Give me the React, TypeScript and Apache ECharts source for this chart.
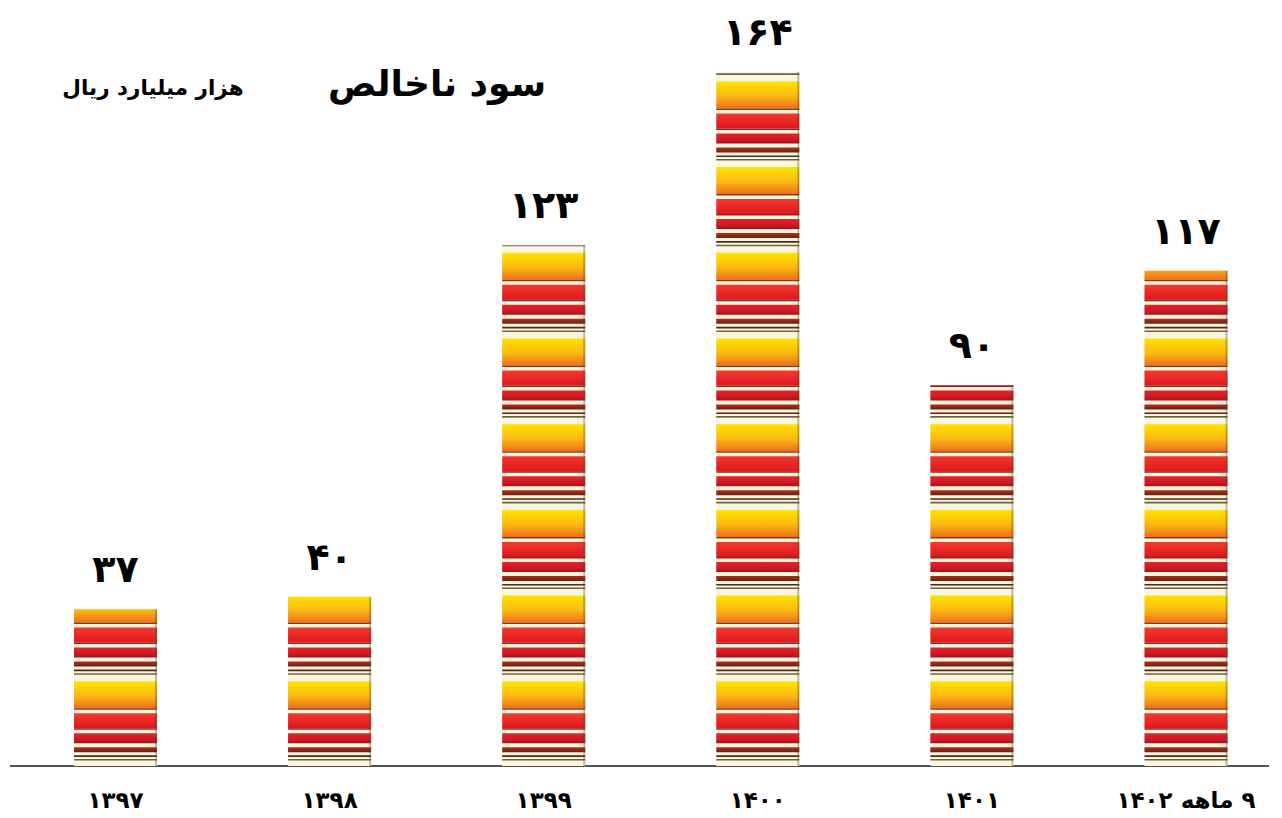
import React, { useEffect, useRef } from "react";
import * as echarts from "echarts";

const categories = ["۱۳۹۷", "۱۳۹۸", "۱۳۹۹", "۱۴۰۰", "۱۴۰۱", "\u202B۹ ماهه ۱۴۰۲\u202C"];
const values = [37, 40, 123, 164, 90, 117];
const titleText = "سود ناخالص";
const unitText = "هزار میلیارد ریال";

const FONT = "'DejaVu Sans', sans-serif";
const toFa = (n: number) => String(n).replace(/\d/g, (d) => "۰۱۲۳۴۵۶۷۸۹"[Number(d)]);

// stripe pattern inside one period (offsets from period top, px)
const PERIOD = 85.7;
type Stripe = { y0: number; y1: number; stops: [number, string][] };
const stripes: Stripe[] = [
  { y0: 0, y1: 27, stops: [[0, "#ffe300"], [0.55, "#fbb814"], [1, "#ee6e1c"]] },
  { y0: 27, y1: 28.5, stops: [[0, "#8a3a12"], [1, "#8a3a12"]] },
  { y0: 32, y1: 47, stops: [[0, "#f23a2c"], [0.6, "#e82424"], [1, "#d21c20"]] },
  { y0: 47, y1: 48.5, stops: [[0, "#9c1a18"], [1, "#9c1a18"]] },
  { y0: 52, y1: 62, stops: [[0, "#e4222a"], [0.6, "#cf1a24"], [1, "#a0141a"]] },
  { y0: 66, y1: 71, stops: [[0, "#b82a1a"], [1, "#5c2810"]] },
  { y0: 74, y1: 75.6, stops: [[0, "#4e2a18"], [1, "#4e2a18"]] },
  { y0: 77.6, y1: 79.2, stops: [[0, "#6c6444"], [1, "#6c6444"]] },
];

export default function App() {
  const ref = useRef<HTMLDivElement>(null);
  useEffect(() => {
    if (!ref.current) return;
    const chart = echarts.init(ref.current, null, { renderer: "svg" });
    const renderItem = (params: any, api: any) => {
      const idx = api.value(0);
      const val = api.value(1);
      const topPt = api.coord([idx, val]);
      const basePt = api.coord([idx, 0]);
      const cx = topPt[0];
      const top = topPt[1];
      const base = basePt[1];
      const bw = api.size([1, 0])[0] * 0.388;
      const x0 = cx - bw / 2;
      const children: any[] = [
        {
          type: "rect",
          shape: { x: x0, y: top, width: bw, height: base - top },
          style: { fill: "#fbf4df" },
        },
      ];
      for (let k = 0; ; k++) {
        const pTop = base - PERIOD * (k + 1) + 1;
        if (pTop + PERIOD < top) break;
        for (const s of stripes) {
          const a = pTop + s.y0;
          const b = pTop + s.y1;
          const ya = Math.max(a, top);
          const yb = Math.min(b, base);
          if (yb <= ya) continue;
          children.push({
            type: "rect",
            shape: { x: x0, y: ya, width: bw, height: yb - ya },
            style: {
              fill: new echarts.graphic.LinearGradient(
                0, a, 0, b,
                s.stops.map(([o, c]) => ({ offset: o, color: c })),
                true
              ),
            },
          });
        }
      }
      children.push({
        type: "rect",
        shape: { x: x0 + bw - 2, y: top, width: 2, height: base - top },
        style: { fill: "rgba(90,70,30,0.35)" },
      });
      children.push({
        type: "text",
        style: {
          text: toFa(val),
          x: cx,
          y: top - 40,
          align: "center",
          verticalAlign: "middle",
          font: `bold 38px ${FONT}`,
          fill: "#000",
        },
      });
      return { type: "group", children };
    };

    chart.setOption({
      animation: false,
      backgroundColor: "#fff",
      grid: { left: 115.5, right: 96, top: 4, bottom: 52 },
      xAxis: {
        type: "category",
        data: categories,
        boundaryGap: false,
        axisLine: { show: false },
        axisTick: { show: false },
        axisLabel: {
          margin: 22,
          fontSize: 23,
          fontWeight: "bold",
          color: "#000",
          fontFamily: FONT,
        },
      },
      yAxis: {
        type: "value",
        min: 0,
        max: 180,
        show: false,
        splitLine: { show: false },
      },
      graphic: [
        {
          type: "line",
          shape: { x1: 10, y1: 766, x2: 1269, y2: 766 },
          style: { stroke: "#1a1a1a", lineWidth: 1.5 },
        },
        {
          type: "text",
          x: 437,
          y: 83,
          style: {
            text: titleText,
            align: "center",
            verticalAlign: "middle",
            font: `bold 36px ${FONT}`,
            fill: "#000",
          },
        },
        {
          type: "text",
          x: 153,
          y: 87,
          style: {
            text: unitText,
            align: "center",
            verticalAlign: "middle",
            font: `bold 21.5px ${FONT}`,
            fill: "#000",
          },
        },
      ],
      series: [
        {
          type: "custom",
          renderItem,
          encode: { x: 0, y: 1 },
          data: values.map((v, i) => [i, v]),
        },
      ],
    });
    return () => chart.dispose();
  }, []);
  return (
    <div
      ref={ref}
      style={{ position: "fixed", left: 0, top: 0, width: 1282, height: 818 }}
    />
  );
}
